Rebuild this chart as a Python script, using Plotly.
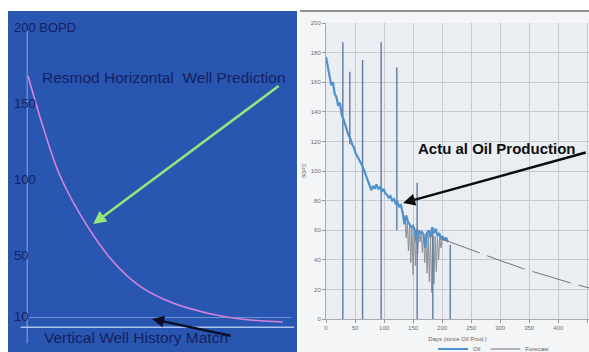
import plotly.graph_objects as go

W, H = 589, 352

# ---- Left panel: Resmod horizontal well prediction (BOPD) ----
pred_t = [4.6, 10, 16, 25, 34, 44, 56, 68, 80, 95]
pred_bopd = [168, 134, 102, 71, 47.5, 30, 18.5, 12, 8, 6]
hist_t = [2, 99]
hist_bopd = [2.5, 2.5]
left_tickvals = [10, 50, 100, 150, 200]
left_ticktext = ["10", "50", "100", "150", "200 BOPD"]

# ---- Right panel: actual oil production (BOPD vs days) ----
oil_day = [0, 3, 6, 9, 12, 15, 18, 21, 24, 27, 30, 33, 36, 39, 42, 45, 48, 51, 54, 57,
           60, 63, 66, 69, 72, 75, 78, 81, 84, 87, 90, 93, 96, 99, 102, 105, 108, 111,
           114, 117, 120, 123, 126, 129, 132, 135, 138, 141, 144, 147, 150, 153, 156,
           159, 162, 165, 168, 171, 174, 177, 180, 183, 186, 189, 192, 195, 198, 201,
           204, 207, 210]
oil_rate = [177, 170, 166, 158, 160, 152, 150, 144, 146, 138, 135, 131, 128, 124, 122,
            118, 116, 112, 110, 108, 106, 103, 100, 97, 94, 90, 87, 90, 88, 91, 88, 89,
            86, 88, 85, 84, 82, 83, 80, 81, 78, 79, 76, 77, 72, 64, 70, 66, 64, 62, 63,
            60, 52, 60, 58, 59, 57, 48, 58, 60, 55, 62, 58, 61, 56, 58, 54, 56, 53, 55, 52]

# shut-in / restart spikes: (day, low, high)
spike_day = [29, 41, 63, 95, 122, 157, 184, 214]
spike_low = [0, 118, 0, 0, 60, 0, 0, 0]
spike_high = [187, 167, 175, 187, 170, 92, 62, 50]

# daily fluctuations during the later period
daily_day = [136, 138, 140, 142, 144, 146, 148, 150, 152, 154, 156, 158, 160, 162, 164,
             166, 168, 170, 172, 174, 176, 178, 180, 182, 184, 186, 188, 190, 192, 194,
             196, 198, 200]
daily_rate = [70, 55, 66, 46, 64, 38, 63, 30, 62, 36, 61, 44, 60, 52, 59, 45, 58, 38, 58,
              31, 57, 25, 57, 18, 56, 24, 56, 32, 55, 40, 55, 48, 54]

fc_day = [200, 220, 260, 300, 340, 380, 420, 453]
fc_rate = [54, 51, 45, 39.5, 34, 29, 24.5, 21]

NAVY = "rgb(22,32,98)"
BLUE_BG = "rgb(40,86,176)"
FONT = "Liberation Sans"


def fx(p):
    return p / W


def fy(p):
    return 1 - p / H


spk_x, spk_y = [], []
for d, lo, hi in zip(spike_day, spike_low, spike_high):
    spk_x += [d, d, None]
    spk_y += [lo, hi, None]

fig = go.Figure()

# left panel traces
fig.add_trace(go.Scatter(x=pred_t, y=pred_bopd, mode="lines", line_shape="spline",
                         line=dict(color="rgb(214,130,222)", width=1.6),
                         xaxis="x", yaxis="y", showlegend=False, hoverinfo="skip"))
fig.add_trace(go.Scatter(x=hist_t, y=hist_bopd, mode="lines",
                         line=dict(color="rgb(170,195,240)", width=1.5),
                         xaxis="x", yaxis="y", showlegend=False, hoverinfo="skip"))

# right panel traces
fig.add_trace(go.Scatter(x=daily_day, y=daily_rate, mode="lines",
                         line=dict(color="rgb(140,145,150)", width=1),
                         xaxis="x2", yaxis="y2", showlegend=False, hoverinfo="skip"))
fig.add_trace(go.Scatter(x=spk_x, y=spk_y, mode="lines",
                         line=dict(color="rgb(95,122,160)", width=1.4),
                         xaxis="x2", yaxis="y2", showlegend=False, hoverinfo="skip"))
fig.add_trace(go.Scatter(x=oil_day, y=oil_rate, mode="lines", name="Oil",
                         line=dict(color="rgb(78,145,205)", width=2.2),
                         xaxis="x2", yaxis="y2"))
fig.add_trace(go.Scatter(x=fc_day, y=fc_rate, mode="lines", name="Forecast",
                         line=dict(color="rgb(115,115,120)", width=1, dash="40px,8px"),
                         xaxis="x2", yaxis="y2"))

shapes = [
    # panel backgrounds
    dict(type="rect", xref="paper", yref="paper", x0=fx(8), x1=fx(297), y0=0, y1=fy(11),
         fillcolor=BLUE_BG, line_width=0, layer="below"),
    dict(type="rect", xref="paper", yref="paper", x0=fx(300), x1=1, y0=0, y1=fy(11),
         fillcolor="rgb(244,245,247)", line_width=0, layer="below"),
    dict(type="rect", xref="x2 domain", yref="y2 domain", x0=0, x1=1, y0=0, y1=1,
         fillcolor="rgb(234,237,242)", line_width=0, layer="below"),
    dict(type="line", xref="paper", yref="paper", x0=fx(300), x1=1, y0=fy(11), y1=fy(11),
         line=dict(color="rgb(110,110,112)", width=1.5)),
    # left panel axis guides
    dict(type="line", xref="x", yref="y", x0=4.3, x1=4.3, y0=-8, y1=198,
         line=dict(color="rgba(175,195,240,0.75)", width=1), layer="below"),
    dict(type="line", xref="x", yref="y", x0=5, x1=98, y0=9, y1=9,
         line=dict(color="rgba(175,195,240,0.55)", width=1), layer="below"),
]

annotations = [
    dict(xref="x", yref="y", axref="x", ayref="y", x=27.7, y=70.5, ax=94.0, ay=161.9,
         text="", showarrow=True, arrowhead=2, arrowsize=1, arrowwidth=2.6,
         arrowcolor="rgb(150,228,122)"),
    dict(xref="x", yref="y", axref="x", ayref="y", x=48.6, y=8.0, ax=77.0, ay=-3.2,
         text="", showarrow=True, arrowhead=2, arrowsize=1, arrowwidth=2.4,
         arrowcolor="rgb(10,14,40)"),
    dict(xref="x2", yref="y2", axref="x2", ayref="y2", x=132.8, y=78.4, ax=450, ay=112.8,
         text="", showarrow=True, arrowhead=2, arrowsize=1, arrowwidth=2.4,
         arrowcolor="rgb(10,10,10)"),
    dict(xref="paper", yref="paper", x=fx(164), y=fy(77), xanchor="center",
         yanchor="middle", showarrow=False,
         text="Resmod Horizontal  Well Prediction",
         font=dict(family=FONT, size=15.5, color=NAVY)),
    dict(xref="paper", yref="paper", x=fx(136), y=fy(337), xanchor="center",
         yanchor="middle", showarrow=False,
         text="Vertical Well History Match",
         font=dict(family=FONT, size=15.5, color=NAVY)),
    dict(xref="paper", yref="paper", x=fx(497), y=fy(148), xanchor="center",
         yanchor="middle", showarrow=False,
         text="<b>Actu al Oil Production</b>",
         font=dict(family=FONT, size=15, color="rgb(15,15,15)")),
]

fig.update_layout(
    width=W, height=H,
    margin=dict(l=0, r=0, t=0, b=0, autoexpand=False),
    paper_bgcolor="white",
    plot_bgcolor="rgba(0,0,0,0)",
    font=dict(family=FONT),
    shapes=shapes,
    annotations=annotations,
    xaxis=dict(domain=[fx(15), fx(297)], range=[0, 100], visible=False, fixedrange=True),
    yaxis=dict(domain=[0, 1], range=[-13.7, 217.75], anchor="x",
               tickvals=left_tickvals, ticktext=left_ticktext,
               ticklabelposition="inside", ticklabelstandoff=-4, ticks="",
               showgrid=False, zeroline=False, showline=False,
               tickfont=dict(family=FONT, size=13, color=NAVY)),
    xaxis2=dict(domain=[fx(326), 1], range=[0, 453], anchor="y2",
                dtick=50, tick0=0, showgrid=True, gridcolor="rgb(196,201,210)",
                gridwidth=1, zeroline=False, showline=True, linecolor="rgb(170,170,175)",
                ticks="outside", ticklen=3, tickcolor="rgb(150,150,150)",
                tickfont=dict(size=6, color="rgb(110,110,110)"),
                title=dict(text="Days (since Oil Prod.)", standoff=6,
                           font=dict(size=6, color="rgb(100,100,100)"))),
    yaxis2=dict(domain=[33 / H, 1 - 23 / H], range=[0, 200], anchor="x2",
                dtick=20, showgrid=True, gridcolor="rgb(196,201,210)", gridwidth=1,
                zeroline=False, showline=True, linecolor="rgb(170,170,175)",
                ticks="outside", ticklen=3, tickcolor="rgb(150,150,150)",
                tickfont=dict(size=6, color="rgb(110,110,110)"),
                title=dict(text="BOPD", standoff=4,
                           font=dict(size=5, color="rgb(100,100,100)"))),
    legend=dict(orientation="h", x=fx(433), y=fy(349), xanchor="left", yanchor="middle",
                font=dict(size=6, color="rgb(90,90,90)"), bgcolor="rgba(0,0,0,0)",
                itemwidth=30, tracegroupgap=0),
    showlegend=True,
)

fig.write_html("out.html")
